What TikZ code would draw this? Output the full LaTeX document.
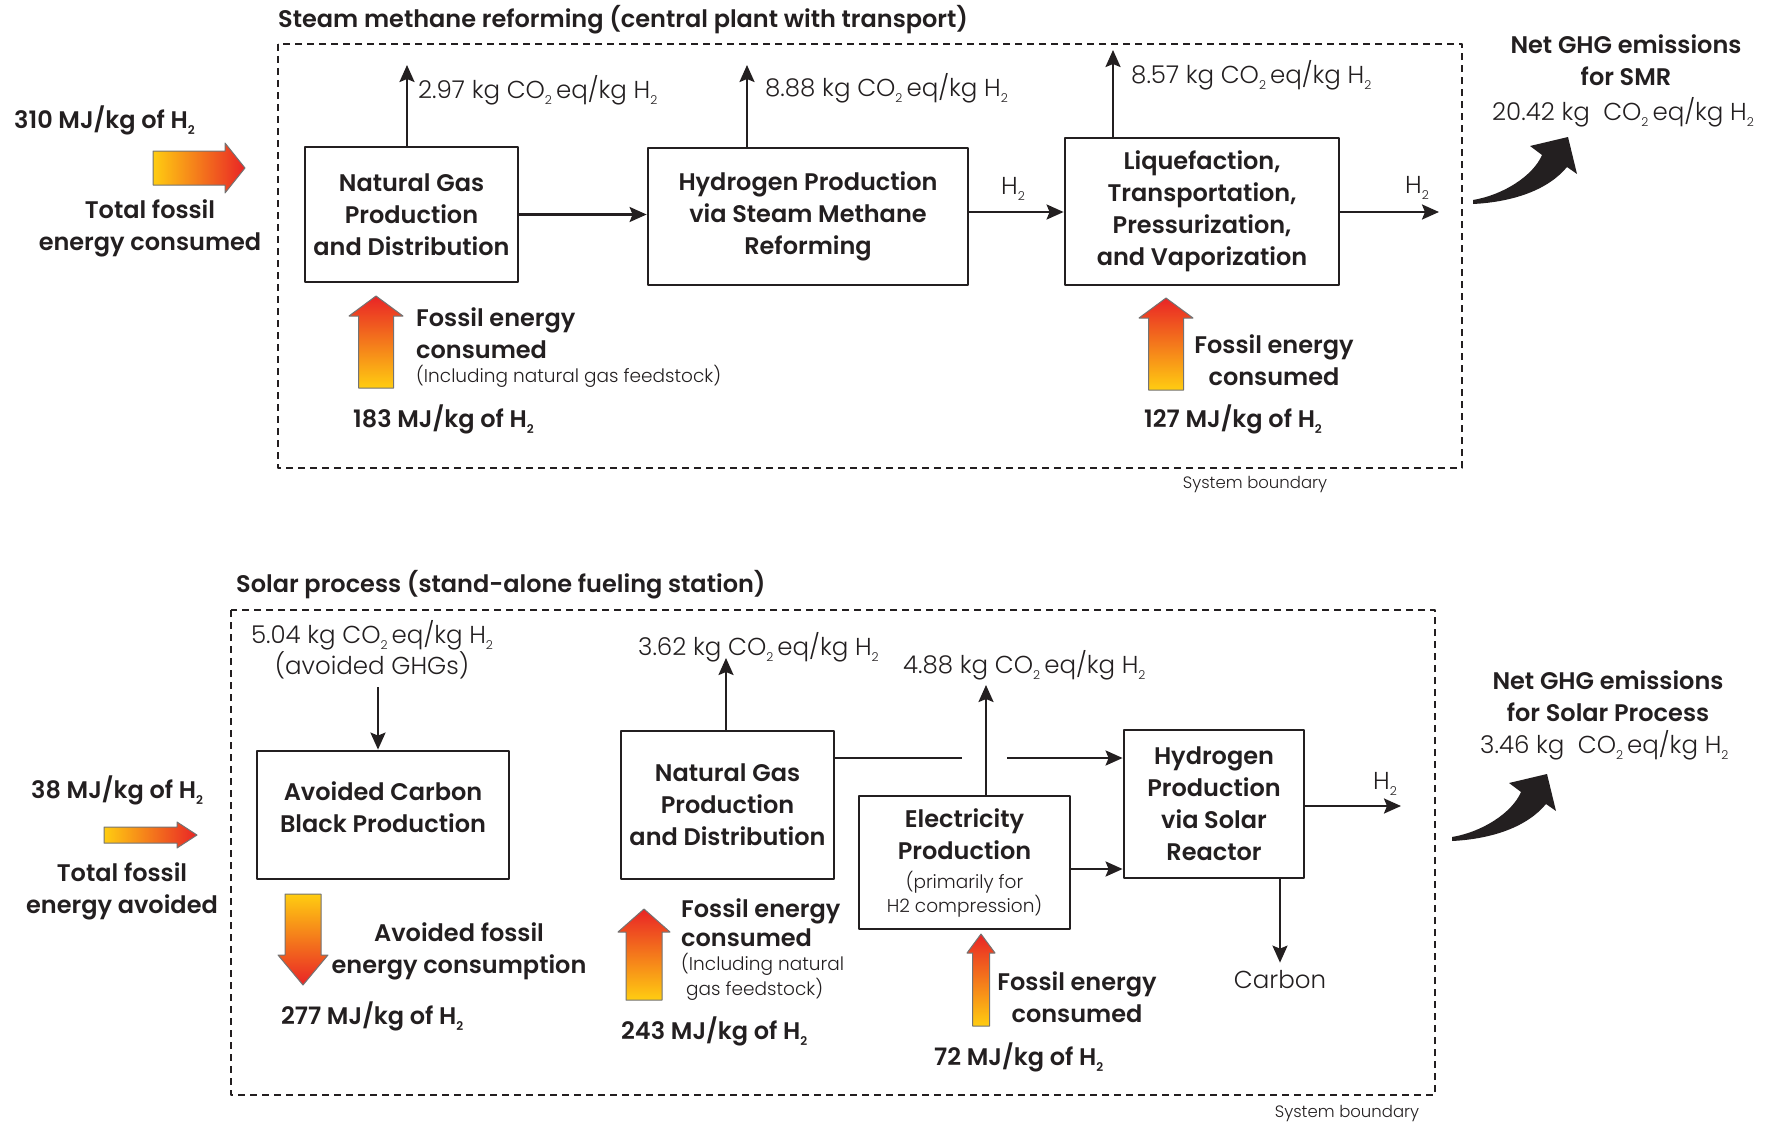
\documentclass[tikz,border=0pt]{standalone}
\usepackage{fontspec}
\setmainfont{Poppins}[BoldFont={Poppins SemiBold}]
\newfontfamily\lightfont{Poppins Light}
\usetikzlibrary{arrows.meta,calc}
\definecolor{ink}{RGB}{35,31,32}
\definecolor{fuelyellow}{RGB}{255,205,17}
\definecolor{fuelred}{RGB}{233,36,38}
\newcommand\boldtxt{\fontsize{24}{32}\selectfont\bfseries}
\newcommand\valtxt{\lightfont\fontsize{24.5}{31}\selectfont}
\newcommand\smalltxt{\lightfont\mdseries\fontsize{18.5}{25}\selectfont}
\newcommand\tinytxt{\lightfont\fontsize{16.5}{20}\selectfont}
\newcommand\lowtwo{\raisebox{-0.45ex}{\scalebox{0.5}{2}}}
\newcommand\cotwo{CO\lowtwo\,eq/kg H\lowtwo}
\tikzset{
  proc/.style={draw=ink,line width=2.8pt,align=center,inner sep=0pt,text=ink,font=\boldtxt},
  flow/.style={draw=ink,line width=2.4pt,-{Stealth[length=17pt,width=15pt,inset=3pt]}},
  plain/.style={draw=ink,line width=2.4pt},
  boundary/.style={draw=ink,line width=1.2pt,dash pattern=on 7pt off 5pt},
  lbl/.style={text=ink,inner sep=0pt},
  energy/.style={draw=black!55,line width=1pt},
  % block arrows: length/shaft half width/head half width/head length
  pics/fuel up/.style args={#1/#2/#3/#4}{code={
    \shadedraw[energy,bottom color=fuelyellow,top color=fuelred]
      (-#2,0) -- (#2,0) -- (#2,-#1+#4) -- (#3,-#1+#4) -- (0,-#1)
      -- (-#3,-#1+#4) -- (-#2,-#1+#4) -- cycle;}},
  pics/fuel down/.style args={#1/#2/#3/#4}{code={
    \shadedraw[energy,top color=fuelyellow,bottom color=fuelred]
      (-#2,0) -- (#2,0) -- (#2,#1-#4) -- (#3,#1-#4) -- (0,#1)
      -- (-#3,#1-#4) -- (-#2,#1-#4) -- cycle;}},
  pics/fuel right/.style args={#1/#2/#3/#4}{code={
    \shadedraw[energy,left color=fuelyellow,right color=fuelred]
      (0,-#2) -- (#1-#4,-#2) -- (#1-#4,-#3) -- (#1,0)
      -- (#1-#4,#3) -- (#1-#4,#2) -- (0,#2) -- cycle;}},
  pics/net arrow/.style={code={
    \fill[ink] (0,2) .. controls (40,0) and (75,-12) .. (94,-35) -- (104,-28)
      -- (95,-65) -- (57,-56) -- (69,-47) .. controls (60,-26) and (30,-7) .. (0,-2) -- cycle;}},
}
\begin{document}
\begin{tikzpicture}[x=1pt,y=-1pt,line join=round]
\useasboundingbox (0,0) rectangle (1786,1124);

%% steam methane reforming
\node[lbl,anchor=west,font=\boldtxt] (titleA) at (278,20) {Steam methane reforming (central plant with transport)};
\draw[boundary] (278,44) rectangle (1462,468);
\node[lbl,font=\tinytxt] (sysA) at (1255,485) {System boundary};

\node[proc,minimum width=213pt,minimum height=135pt] (ngA) at (411.5,214.5) {Natural Gas\\Production\\and Distribution};
\node[proc,minimum width=320pt,minimum height=137pt] (smr) at (808,216.5) {Hydrogen Production\\via Steam Methane\\Reforming};
\node[proc,minimum width=274pt,minimum height=147pt] (ltpv) at (1202,211.5) {Liquefaction,\\Transportation,\\Pressurization,\\and Vaporization};

\coordinate (eA) at (407,65);
\coordinate (eB) at (747,65);
\coordinate (eC) at (1113,50);
\coordinate (h2A) at (1439,212);
\draw[flow] (eA |- ngA.north) -- (eA);
\draw[flow] (eB |- smr.north) -- (eB);
\draw[flow] (eC |- ltpv.north) -- (eC);
\node[lbl,anchor=west,font=\valtxt] (coA) at (418,90) {2.97 kg \cotwo};
\node[lbl,anchor=west,font=\valtxt] (coB) at (765,88) {8.88 kg \cotwo};
\node[lbl,anchor=west,font=\valtxt] (coC) at (1131,75) {8.57 kg \cotwo};

\draw[flow] (ngA.east) -- (ngA.east -| smr.west);
\draw[flow] (smr.east |- h2A) -- (h2A -| ltpv.west);
\draw[flow] (ltpv.east |- h2A) -- (h2A);
\node[lbl,font=\valtxt] (hA) at (1013,189) {H\lowtwo};
\node[lbl,font=\valtxt] (hB) at (1417,188) {H\lowtwo};

\pic at (376,388) {fuel up={92/17.5/27/20}};
\pic at (1166,390) {fuel up={92/17.5/27/20}};
\node[lbl,anchor=west,align=left,font=\boldtxt] (feA) at (416,333.5) {Fossil energy\\consumed};
\node[lbl,anchor=west,font=\smalltxt] (incA) at (416,376) {(Including natural gas feedstock)};
\node[lbl,anchor=west,font=\boldtxt] (mjA) at (353,419) {183 MJ/kg of H\lowtwo};
\node[lbl,align=center,font=\boldtxt] (feB) at (1274,360.5) {Fossil energy\\consumed};
\node[lbl,anchor=west,font=\boldtxt] (mjB) at (1144,419) {127 MJ/kg of H\lowtwo};

\node[lbl,anchor=west,font=\boldtxt] (totA) at (14,120) {310 MJ/kg of H\lowtwo};
\pic at (153,168) {fuel right={92/17/25/20}};
\node[lbl,align=center,font=\boldtxt] (tfA) at (150,228.5) {Total fossil\\energy consumed};

\node[lbl,align=center,font=\boldtxt] (netA) at (1626,60) {Net GHG emissions\\for SMR};
\node[lbl,anchor=west,font=\valtxt] (netvA) at (1492,112) {20.42 kg\ \ \cotwo};
\pic at (1473,202) {net arrow};

%% solar process
\node[lbl,anchor=west,font=\boldtxt] (titleB) at (236,585) {Solar process (stand-alone fueling station)};
\draw[boundary] (231,610) rectangle (1435,1095);
\node[lbl,font=\tinytxt] (sysB) at (1347,1114) {System boundary};

\node[proc,minimum width=252pt,minimum height=128pt] (acb) at (383,815) {Avoided Carbon\\Black Production\\[-26pt]\strut};
\node[proc,minimum width=213pt,minimum height=148pt] (ngB) at (727.5,805) {Natural Gas\\Production\\and Distribution};
\node[proc,minimum width=211pt,minimum height=133pt] (elec) at (964.5,862.5) {Electricity\\Production\\[-3pt]{\smalltxt (primarily for}\\[-8pt]{\smalltxt H2 compression)}};
\node[proc,minimum width=180pt,minimum height=148pt] (hsr) at (1214,804) {Hydrogen\\Production\\via Solar\\Reactor};

\node[lbl,align=center,font=\valtxt] (coD) at (372,649.5) {5.04 kg \cotwo\\(avoided GHGs)};
\coordinate (eD) at (378,687);
\draw[flow] (eD) -- (eD |- acb.north);

\coordinate (eE) at (726,658);
\coordinate (eF) at (986,685);
\draw[flow] (eE |- ngB.north) -- (eE);
\draw[flow] (eF |- elec.north) -- (eF);
\node[lbl,anchor=west,font=\valtxt] (coE) at (638,647) {3.62 kg \cotwo};
\node[lbl,anchor=west,font=\valtxt] (coF) at (903,665) {4.88 kg \cotwo};

\coordinate (g1) at (962,758);
\coordinate (g2) at (1007,758);
\draw[plain] (ngB.east |- g1) -- (g1);
\draw[flow] (g2) -- (g2 -| hsr.west);
\draw[flow] ($(elec.east)+(0,6.5)$) coordinate (q) -- (q -| hsr.west);
\coordinate (h2B) at (1401,806);
\draw[flow] (hsr.east |- h2B) -- (h2B);
\node[lbl,font=\valtxt] (hC) at (1385,784) {H\lowtwo};
\node[lbl,font=\valtxt] (carbon) at (1280,980) {Carbon};
\draw[flow,shorten >=8pt] (carbon.north |- hsr.south) -- (carbon.north);

\pic at (303,894) {fuel down={91/18/25/30}};
\node[lbl,align=center,font=\boldtxt] (afB) at (459,951.5) {Avoided fossil\\energy consumption};
\node[lbl,anchor=west,font=\boldtxt] (mjC) at (281,1016) {277 MJ/kg of H\lowtwo};

\pic at (644,1000) {fuel up={91/18/26/23}};
\node[lbl,anchor=west,align=left,font=\boldtxt] (feC) at (681,922.5) {Fossil energy\\[-3pt]consumed};
\node[lbl,anchor=west,align=left,font=\smalltxt] (incC) at (681,977) {(Including natural\\\hspace{5pt}gas feedstock)};
\node[lbl,anchor=west,font=\boldtxt] (mjD) at (621,1031) {243 MJ/kg of H\lowtwo};

\pic at (981,1026) {fuel up={92/8.5/14/19}};
\node[lbl,align=center,font=\boldtxt] (feD) at (1077,997.5) {Fossil energy\\consumed};
\node[lbl,anchor=west,font=\boldtxt] (mjE) at (934,1057) {72 MJ/kg of H\lowtwo};

\node[lbl,anchor=west,font=\boldtxt] (totB) at (31,790) {38 MJ/kg of H\lowtwo};
\pic at (104,835) {fuel right={93/8/13/20}};
\node[lbl,align=center,font=\boldtxt] (tfB) at (122,891) {Total fossil\\energy avoided};

\node[lbl,align=center,font=\boldtxt] (netB) at (1608,696) {Net GHG emissions\\for Solar Process};
\node[lbl,anchor=west,font=\valtxt] (netvB) at (1480,745) {3.46 kg\ \ \cotwo};
\pic at (1452,839) {net arrow};
\end{tikzpicture}
\end{document}
